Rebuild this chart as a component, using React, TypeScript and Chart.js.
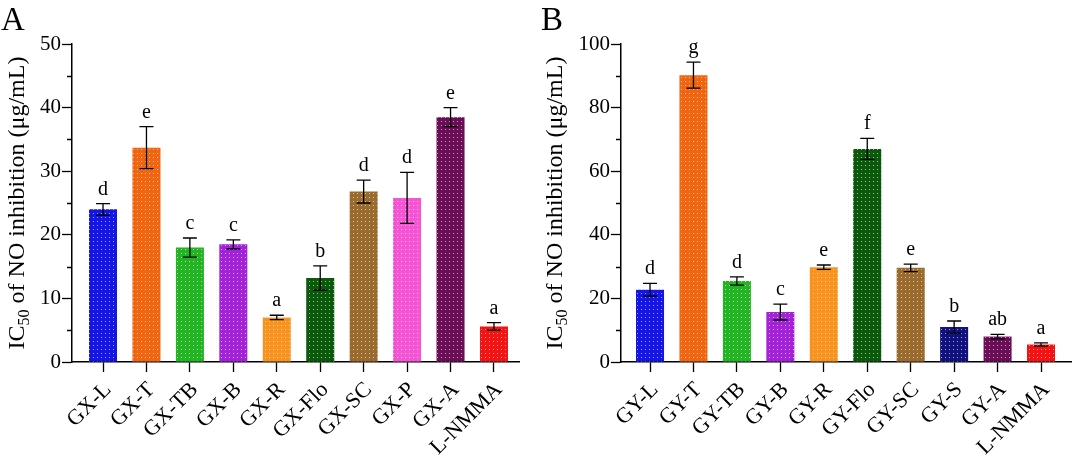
import React, { useEffect, useRef } from "react";
import { Chart, registerables } from "chart.js";
Chart.register(...registerables);

const catsA = ["GX-L", "GX-T", "GX-TB", "GX-B", "GX-R", "GX-Flo", "GX-SC", "GX-P", "GX-A", "L-NMMA"];
const meanA = [24.0, 33.7, 18.0, 18.5, 7.0, 13.2, 26.8, 25.8, 38.5, 5.6];
const errA = [0.9, 3.3, 1.5, 0.7, 0.35, 1.9, 1.8, 4.0, 1.5, 0.6];
const lettersA = ["d", "e", "c", "c", "a", "b", "d", "d", "e", "a"];
const colorsA = ["#1515e6", "#f0650f", "#22b422", "#a321d6", "#f7931e", "#0b5a0b", "#9a6b2c", "#f554d4", "#6b0c56", "#f21313"];

const catsB = ["GY-L", "GY-T", "GY-TB", "GY-B", "GY-R", "GY-Flo", "GY-SC", "GY-S", "GY-A", "L-NMMA"];
const meanB = [22.7, 90.2, 25.5, 15.7, 29.8, 67.0, 29.6, 11.0, 8.0, 5.5];
const errB = [2.0, 4.1, 1.3, 2.5, 0.7, 3.3, 1.2, 1.9, 0.7, 0.5];
const lettersB = ["d", "g", "d", "c", "e", "f", "e", "b", "ab", "a"];
const colorsB = ["#1515e6", "#f0650f", "#22b422", "#a321d6", "#f7931e", "#0b5a0b", "#9a6b2c", "#12127e", "#6b0c56", "#f21313"];

const yTicksA = { max: 50, step: 5, labelEvery: 10 };
const yTicksB = { max: 100, step: 10, labelEvery: 20 };

const SERIF = '"Liberation Serif", "Times New Roman", serif';

function makePattern(color: string) {
  const c = document.createElement("canvas");
  c.width = 4;
  c.height = 4;
  const g = c.getContext("2d")!;
  g.fillStyle = color;
  g.fillRect(0, 0, 4, 4);
  g.fillStyle = "rgba(255,255,255,0.6)";
  g.fillRect(1, 1, 1, 1);
  return g.createPattern(c, "repeat")!;
}

type PanelCfg = {
  cats: string[];
  mean: number[];
  err: number[];
  letters: string[];
  colors: string[];
  yt: { max: number; step: number; labelEvery: number };
  panel: string;
  yWidth: number;
  padRight: number;
  xMin: number;
  xMax: number;
  titleX: number;
};

function Panel({ cfg }: { cfg: PanelCfg }) {
  const ref = useRef<HTMLCanvasElement>(null);
  useEffect(() => {
    const overlay = {
      id: "overlay",
      afterDatasetsDraw(chart: any) {
        const { ctx, scales, chartArea } = chart;
        const x = scales.x;
        const y = scales.y;
        ctx.save();
        ctx.strokeStyle = "#000";
        ctx.lineWidth = 1.3;
        ctx.fillStyle = "#000";
        cfg.mean.forEach((m, i) => {
          const px = x.getPixelForValue(i);
          const hi = y.getPixelForValue(m + cfg.err[i]);
          const lo = y.getPixelForValue(m - cfg.err[i]);
          ctx.beginPath();
          ctx.moveTo(px, lo);
          ctx.lineTo(px, hi);
          ctx.moveTo(px - 7, hi);
          ctx.lineTo(px + 7, hi);
          ctx.moveTo(px - 7, lo);
          ctx.lineTo(px + 7, lo);
          ctx.stroke();
          ctx.font = `20px ${SERIF}`;
          ctx.textAlign = "center";
          ctx.textBaseline = "alphabetic";
          ctx.fillText(cfg.letters[i], px, hi - 9);
        });
        // minor y ticks
        ctx.lineWidth = 1.3;
        ctx.beginPath();
        for (let v = cfg.yt.step; v < cfg.yt.max; v += cfg.yt.step) {
          if (v % cfg.yt.labelEvery === 0) continue;
          const py = Math.round(y.getPixelForValue(v)) + 0.5;
          ctx.moveTo(chartArea.left - 5, py);
          ctx.lineTo(chartArea.left, py);
        }
        ctx.stroke();
        // y-axis title with subscript
        const cy = (chartArea.top + chartArea.bottom) / 2;
        ctx.translate(cfg.titleX, cy);
        ctx.rotate(-Math.PI / 2);
        const big = `24px ${SERIF}`;
        const small = `16px ${SERIF}`;
        const p1 = "IC";
        const p2 = "50";
        const p3 = " of NO inhibition (\u03bcg/mL)";
        ctx.font = big;
        const w1 = ctx.measureText(p1).width;
        const w3 = ctx.measureText(p3).width;
        ctx.font = small;
        const w2 = ctx.measureText(p2).width;
        let sx = -(w1 + w2 + w3) / 2;
        ctx.textAlign = "left";
        ctx.font = big;
        ctx.fillText(p1, sx, 0);
        sx += w1;
        ctx.font = small;
        ctx.fillText(p2, sx, 5);
        sx += w2;
        ctx.font = big;
        ctx.fillText(p3, sx, 0);
        ctx.setTransform(1, 0, 0, 1, 0, 0);
        // panel letter
        ctx.font = `33px ${SERIF}`;
        ctx.textAlign = "left";
        ctx.fillText(cfg.panel, 1, 30);
        ctx.restore();
      },
    };
    const chart = new Chart(ref.current!, {
      type: "bar",
      data: {
        datasets: [
          {
            data: cfg.mean.map((v, i) => ({ x: i, y: v })),
            backgroundColor: cfg.colors.map(makePattern) as any,
            borderWidth: 0,
            barPercentage: 0.645,
            categoryPercentage: 1,
          },
        ],
      },
      options: {
        animation: false,
        responsive: false,
        events: [],
        layout: { padding: { top: 44, right: cfg.padRight, bottom: 0, left: 0 }, autoPadding: false },
        plugins: { legend: { display: false }, tooltip: { enabled: false } },
        scales: {
          x: {
            type: "linear",
            offset: false,
            min: cfg.xMin,
            max: cfg.xMax,
            afterBuildTicks: (s: any) => {
              s.ticks = cfg.cats.map((_, i) => ({ value: i }));
            },
            afterFit: (s: any) => {
              s.height = 99;
            },
            grid: { display: true, offset: false, drawOnChartArea: false, drawTicks: true, tickLength: 10, color: "#000", tickWidth: 1.3 },
            border: { display: true, color: "#000", width: 1.5 },
            ticks: {
              autoSkip: false,
              maxRotation: 45,
              minRotation: 45,
              padding: 5,
              labelOffset: 5,
              color: "#000",
              font: { family: SERIF, size: 22 },
              callback: (v: any) => cfg.cats[Math.round(v)] ?? "",
            },
          },
          y: {
            min: 0,
            max: cfg.yt.max,
            afterFit: (s: any) => {
              s.width = cfg.yWidth;
            },
            grid: {
              display: true,
              drawOnChartArea: false,
              drawTicks: true,
              tickLength: 10,
              color: "#000",
              tickWidth: 1.3,
              tickColor: (c: any) => (c.tick && c.tick.value % cfg.yt.labelEvery === 0 ? "#000" : "rgba(0,0,0,0)"),
            },
            border: { display: true, color: "#000", width: 1.5 },
            ticks: {
              stepSize: cfg.yt.step,
              padding: 1,
              color: "#000",
              font: { family: SERIF, size: 21 },
              callback: (v: any) => (v % cfg.yt.labelEvery === 0 ? String(v) : ""),
            },
          },
        },
      },
      plugins: [overlay],
    } as any);
    return () => chart.destroy();
  }, [cfg]);
  return <canvas ref={ref} width={540} height={461} style={{ display: "block", width: 540, height: 461 }} />;
}

const cfgA: PanelCfg = {
  cats: catsA, mean: meanA, err: errA, letters: lettersA, colors: colorsA, yt: yTicksA,
  panel: "A", yWidth: 72, padRight: 21, xMin: -0.714, xMax: 9.576, titleX: 24,
};
const cfgB: PanelCfg = {
  cats: catsB, mean: meanB, err: errB, letters: lettersB, colors: colorsB, yt: yTicksB,
  panel: "B", yWidth: 81, padRight: 9, xMin: -0.668, xMax: 9.69, titleX: 22,
};

export default function App() {
  useEffect(() => {
    document.body.style.margin = "0";
  }, []);
  return (
    <div style={{ display: "flex", width: 1080, height: 461, background: "#fff" }}>
      <Panel cfg={cfgA} />
      <Panel cfg={cfgB} />
    </div>
  );
}
